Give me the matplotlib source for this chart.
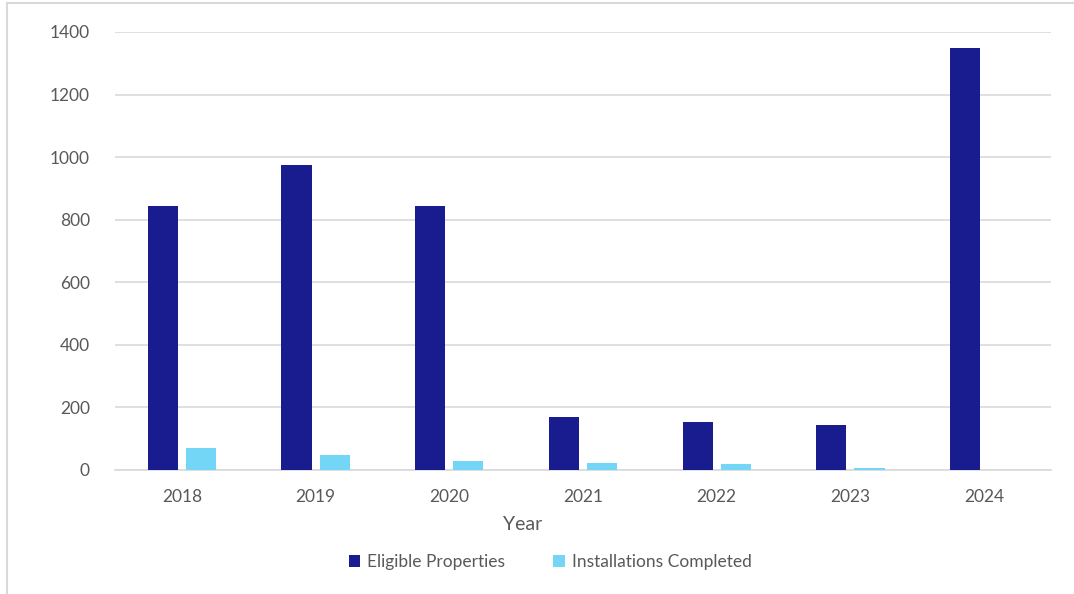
import matplotlib.pyplot as plt
import numpy as np
from matplotlib.lines import Line2D

years = ["2018", "2019", "2020", "2021", "2022", "2023", "2024"]
eligible = [844, 975, 844, 169, 154, 144, 1350]
installed = [70, 47, 30, 22, 19, 6, 0]

navy = "#191c8f"
sky = "#73d6f7"
grey_text = "#595959"
grid_col = "#d9d9d9"

plt.rcParams['font.family'] = ['Lato', 'DejaVu Sans']

fig = plt.figure(figsize=(10.74, 5.94), dpi=100)
ax = fig.add_axes([115 / 1074, (594 - 470) / 594, (1051 - 115) / 1074, (470 - 32) / 594])

x = np.arange(len(years))
w = 0.225
off = 0.1425
ax.bar(x - off, eligible, w, color=navy, label="Eligible Properties", zorder=3)
ax.bar(x + off, installed, w, color=sky, label="Installations Completed", zorder=3)

ax.set_xlim(-0.5, len(years) - 0.5)
ax.set_ylim(0, 1400)
ax.set_yticks(range(0, 1401, 200))
ax.set_xticks(x)
ax.set_xticklabels(years)
ax.yaxis.grid(True, color=grid_col, linewidth=1.2, zorder=0)
ax.tick_params(length=0, labelsize=12.5, colors=grey_text, pad=14)
ax.tick_params(axis='y', pad=18)
for s in ["top", "right", "left"]:
    ax.spines[s].set_visible(False)
ax.spines["bottom"].set_color(grid_col)
ax.spines["bottom"].set_linewidth(1.2)

fig.text(523 / 1074, 1 - 525 / 594, "Year", ha="center", va="center",
         fontsize=14, color=grey_text)

fig.legend(loc="center", bbox_to_anchor=(550 / 1074, 1 - 562 / 594), ncol=2,
           frameon=False, fontsize=12.5, labelcolor=grey_text,
           handlelength=0.65, handleheight=0.65, handletextpad=0.4,
           columnspacing=2.8)

# chart area border (left and top edges visible)
fig.add_artist(Line2D([7 / 1074, 7 / 1074], [0, 1 - 3 / 594], color=grid_col,
                      linewidth=1.5, transform=fig.transFigure))
fig.add_artist(Line2D([7 / 1074, 1], [1 - 3 / 594, 1 - 3 / 594], color=grid_col,
                      linewidth=1.5, transform=fig.transFigure))

fig.savefig("out.png", dpi=100)
